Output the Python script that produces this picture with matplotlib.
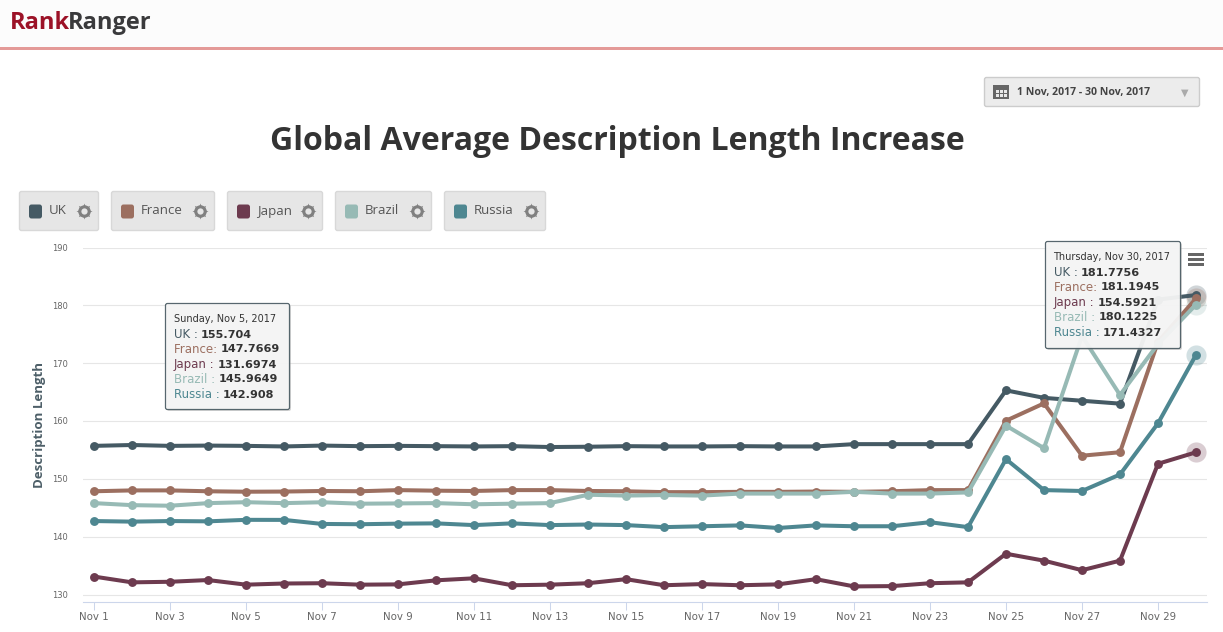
import matplotlib
matplotlib.use("Agg")
import matplotlib.pyplot as plt
from matplotlib.patches import Rectangle, FancyBboxPatch

W, H = 1223, 632

days = list(range(1, 31))
tick_days = list(range(1, 31, 2))
tick_labels = [f"Nov {d}" for d in tick_days]
y_ticks = [130, 140, 150, 160, 170, 180, 190]

uk = [155.7, 155.85, 155.7, 155.75, 155.7, 155.6, 155.75, 155.65, 155.7, 155.65,
      155.6, 155.65, 155.5, 155.55, 155.65, 155.6, 155.6, 155.65, 155.6, 155.6,
      156.0, 156.0, 156.0, 156.0, 165.3, 164.0, 163.5, 163.0, 181.0, 181.78]
france = [147.85, 148.0, 148.0, 147.85, 147.77, 147.8, 147.9, 147.85, 148.05, 147.95,
          147.9, 148.05, 148.05, 147.9, 147.85, 147.7, 147.7, 147.75, 147.75, 147.8,
          147.75, 147.85, 148.05, 148.05, 160.05, 163.05, 154.0, 154.6, 173.7, 181.19]
japan = [133.1, 132.1, 132.2, 132.5, 131.7, 131.9, 131.95, 131.7, 131.75, 132.45,
         132.8, 131.6, 131.7, 131.95, 132.65, 131.6, 131.8, 131.6, 131.75, 132.65,
         131.4, 131.45, 131.95, 132.1, 137.05, 135.85, 134.2, 135.85, 152.6, 154.59]
brazil = [145.8, 145.45, 145.35, 145.8, 145.96, 145.8, 145.95, 145.7, 145.75, 145.8,
          145.6, 145.7, 145.8, 147.25, 147.1, 147.2, 147.1, 147.45, 147.45, 147.45,
          147.75, 147.45, 147.45, 147.65, 159.2, 155.3, 174.7, 164.5, 173.3, 180.12]
russia = [142.7, 142.6, 142.7, 142.65, 142.91, 142.9, 142.2, 142.15, 142.25, 142.3,
          142.0, 142.3, 142.0, 142.1, 142.0, 141.65, 141.8, 141.95, 141.5, 141.95,
          141.8, 141.8, 142.5, 141.65, 153.4, 148.05, 147.9, 150.75, 159.6, 171.43]

names = ["UK", "France", "Japan", "Brazil", "Russia"]
series = [uk, france, japan, brazil, russia]
colors = ["#455a64", "#9c6f60", "#6d3b4f", "#97bab5", "#4e8791"]
tip_labels = ["UK : ", "France: ", "Japan : ", "Brazil : ", "Russia : "]

# left tooltip
tip_left_date = "Sunday, Nov 5, 2017"
tip_left_vals = ["155.704", "147.7669", "131.6974", "145.9649", "142.908"]
# right tooltip
tip_right_date = "Thursday, Nov 30, 2017"
tip_right_vals = ["181.7756", "181.1945", "154.5921", "180.1225", "171.4327"]

plt.rcParams["font.family"] = ["Open Sans", "DejaVu Sans"]

fig = plt.figure(figsize=(W / 100, H / 100), dpi=100, facecolor="white")


def px_rect(x, y, w, h, **kw):
    overlay.add_patch(Rectangle((x, H - y - h), w, h, **kw))


def px_box(x, y, w, h, fc, ec, lw=1, zorder=1, pad=2, alpha=None):
    box = FancyBboxPatch((x, H - y - h), w, h, boxstyle=f"round,pad=0,rounding_size={pad}",
                         fc=fc, ec=ec, lw=lw, zorder=zorder, alpha=alpha)
    overlay.add_patch(box)


def px_text(x, y, s, **kw):
    return overlay.text(x, H - y, s, **kw)


# axes in pixels: 190 at y=247.5, 130 at y=594.5, Nov 1 at x=94, Nov 30 at x=1196
ax_top, ax_bottom = 247.5, 601.5
ax_left, ax_right = 83.0, 1207.0
ax = fig.add_axes([ax_left / W, 1 - ax_bottom / H, (ax_right - ax_left) / W, (ax_bottom - ax_top) / H])
per_unit = (594.5 - 247.5) / 60
per_day = (1196 - 94) / 29
ax.set_ylim(130 - (ax_bottom - 594.5) / per_unit, 190)
ax.set_xlim(1 - (94 - ax_left) / per_day, 30 + (ax_right - 1196) / per_day)
ax.set_facecolor("none")

ax.set_yticks(y_ticks)
ax.set_xticks(tick_days)
ax.set_xticklabels(tick_labels, fontsize=7.4, color="#666666", family=["DejaVu Sans"])
ax.set_yticklabels([str(v) for v in y_ticks], fontsize=6, color="#666666", family=["DejaVu Sans"])
ax.tick_params(axis="y", length=0, pad=11)
ax.tick_params(axis="x", length=6, width=0.75, color="#ccd6eb", pad=1.5)
ax.grid(axis="y", color="#e6e6e6", lw=0.8)
ax.set_axisbelow(True)
for side in ["top", "left", "right"]:
    ax.spines[side].set_visible(False)
ax.spines["bottom"].set_color("#ccd6eb")
ax.spines["bottom"].set_linewidth(0.8)
ax.set_ylabel("Description Length", fontsize=9.5, fontweight="bold", color="#4d5f68", va="center")
ax.yaxis.set_label_coords((39 - ax_left) / (ax_right - ax_left), (ax_bottom - 424.5) / (ax_bottom - ax_top))

for vals, color, name in zip(series, colors, names):
    ax.plot(days, vals, color=color, lw=2.9, marker="o", ms=6.4, mew=0, label=name,
            solid_capstyle="round", zorder=3, clip_on=False)
    # hover halo on the last point
    ax.plot(days[-1:], vals[-1:], marker="o", ms=14.5, mew=0, color=color, alpha=0.25,
            ls="none", zorder=2.5, clip_on=False)

# overlay in pixel units for the page chrome
overlay = fig.add_axes([0, 0, 1, 1], facecolor="none", zorder=5)
overlay.set_xlim(0, W)
overlay.set_ylim(0, H)
overlay.axis("off")

# header bar
px_rect(0, 0, W, 47, fc="#fcfcfc", ec="none")
px_rect(0, 47, W, 3, fc="#e49a98", ec="none")
px_text(10, 29, "Rank", fontsize=17, fontweight="bold", color="#9c1227", family=["Open Sans"])
px_text(68, 29, "Ranger", fontsize=17, fontweight="bold", color="#3a3a3c", family=["Open Sans"])

# date picker
px_box(984.5, 77.5, 215, 29, "#ececec", "#cccccc")
px_rect(993, 85, 16, 14, fc="#666666", ec="none", zorder=10)
for dx in (996, 1000, 1004):
    px_rect(dx, 90, 2.5, 2.5, fc="#e8e8e8", ec="none", zorder=11)
    px_rect(dx, 94, 2.5, 2.5, fc="#e8e8e8", ec="none", zorder=11)
px_text(1017, 93, "1 Nov, 2017 - 30 Nov, 2017", fontsize=7.6, fontweight="bold", color="#444444",
        va="center", family=["Open Sans"])
px_text(1185, 93, "\u25bc", fontsize=7, color="#aaaaaa", ha="center", va="center", family=["DejaVu Sans"])

# title
px_text(617.5, 141.5, "Global Average Description Length Increase", fontsize=23, fontweight="bold",
        color="#333333", ha="center", va="center", family=["Open Sans"])

# legend buttons
button_x = [19, 111, 227, 335, 444]
button_w = [80, 104, 96, 97, 102]
for name, color, bx, bw in zip(names, colors, button_x, button_w):
    px_box(bx + 0.5, 191.5, bw - 1, 39, "#e6e6e6", "#d8d8d8")
    px_box(bx + 10, 204.5, 13, 14, color, "none", pad=2.5)
    px_text(bx + 30, 211, name, fontsize=9.5, color="#555555", va="center", family=["Open Sans"])
    # gear icon
    gear_x, gear_y = bx + bw - 15, H - 211
    overlay.plot([gear_x], [gear_y], marker=(8, 1, 0), ms=11.5, mew=0, color="#808080", ls="none", zorder=2)
    overlay.plot([gear_x], [gear_y], marker="o", ms=9, mew=0, color="#808080", ls="none", zorder=2)
    overlay.plot([gear_x], [gear_y], marker="o", ms=4.5, mew=0, color="#e6e6e6", ls="none", zorder=3)

# menu icon
for yy in (253, 258, 263):
    px_rect(1188, yy, 16, 3, fc="#666666", ec="none", zorder=10)


def tooltip(x, y, w, h, date, vals):
    px_box(x + 1.5, y + 1.5, w, h, "#999999", "none", alpha=0.4, zorder=3)
    px_box(x, y, w, h, "#f7f7f7", "#4a5b63", lw=0.9, alpha=0.93, zorder=4)
    px_text(x + 8, y + 16, date, fontsize=7, color="#333333", va="center", zorder=5,
            family=["DejaVu Sans"])
    for i, (label, color, v) in enumerate(zip(tip_labels, colors, vals)):
        yy = y + 31 + i * 15
        t = px_text(x + 8, yy, label, fontsize=8.5, color=color, va="center", zorder=5,
                    family=["DejaVu Sans"])
        fig.canvas.draw()
        px_text(t.get_window_extent().x1, yy, v, fontsize=8.1, fontweight="bold", color="#333333",
                va="center", zorder=5, family=["DejaVu Sans"])


tooltip(165.5, 303.5, 124, 106, tip_left_date, tip_left_vals)
tooltip(1045.5, 241.5, 135, 107, tip_right_date, tip_right_vals)

fig.savefig("out.png", dpi=100)
